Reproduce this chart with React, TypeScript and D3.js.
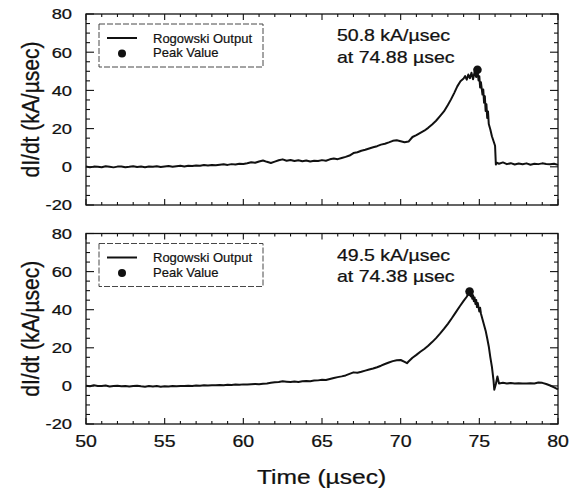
import React from "react";
import * as d3 from "d3";

// ---------- data ----------
const timeTop = [
  50.0, 50.25, 50.5, 50.75, 51.0, 51.25, 51.5, 51.75, 52.0, 52.25, 52.5, 52.75,
  53.0, 53.25, 53.5, 53.75, 54.0, 54.25, 54.5, 54.75, 55.0, 55.25, 55.5, 55.75,
  56.0, 56.25, 56.5, 56.75, 57.0, 57.25, 57.5, 57.75, 58.0, 58.25, 58.5, 58.75,
  59.0, 59.25, 59.5, 59.75, 60.0, 60.25, 60.5, 60.75, 61.0, 61.25, 61.5, 61.75,
  62.0, 62.25, 62.5, 62.75, 63.0, 63.25, 63.5, 63.75, 64.0, 64.25, 64.5, 64.75,
  65.0, 65.25, 65.5, 65.75, 66.0, 66.25, 66.5, 66.75, 67.0, 67.25, 67.5, 67.75,
  68.0, 68.25, 68.5, 68.75, 69.0, 69.25, 69.5, 69.75, 70.0, 70.25, 70.5, 70.75,
  71.0, 71.25, 71.5, 71.75, 72.0, 72.25, 72.5, 72.75, 73.0, 73.2, 73.4, 73.6,
  73.8, 74.0, 74.1, 74.2, 74.3, 74.4, 74.5, 74.6, 74.7, 74.8, 74.88, 74.95,
  75.0, 75.05, 75.1, 75.2, 75.25, 75.3, 75.35, 75.4, 75.45, 75.5, 75.55, 75.6,
  75.7, 75.8, 75.9, 76.0, 76.05, 76.1, 76.25, 76.5, 76.75, 77.0, 77.25, 77.5,
  77.75, 78.0, 78.25, 78.5, 78.75, 79.0, 79.25, 79.5, 79.75, 80.0,
];
const valueTop = [
  0.2, -0.3, 0.1, 0.0, -0.2, 0.3, 0.0, -0.3, 0.1, 0.2, -0.2, 0.0,
  0.3, -0.1, 0.1, -0.2, 0.2, 0.0, 0.3, -0.1, 0.2, 0.4, 0.0, 0.3,
  0.5, 0.2, 0.6, 0.4, 0.7, 0.5, 0.9, 0.7, 1.0, 0.8, 1.1, 1.3,
  1.0, 1.4, 1.2, 1.6, 1.5, 1.9, 2.4, 2.1, 2.8, 3.3, 2.6, 2.0,
  2.7, 3.4, 3.9, 3.2, 3.6, 3.0, 3.4, 2.9, 3.3, 2.8, 3.2, 3.0,
  3.5, 3.2, 3.9, 4.3, 4.0, 4.6, 5.2, 5.9, 7.2, 7.6, 8.4, 8.9,
  9.6, 10.2, 10.8, 11.6, 12.1, 12.8, 13.6, 13.9, 13.4, 12.9, 13.2, 15.6,
  16.6, 17.8, 18.9, 20.4, 22.2, 24.1, 26.5, 29.0, 32.4, 35.3, 38.6, 42.1,
  44.8, 46.2, 47.5, 45.6, 48.3, 46.4, 49.2, 45.8, 49.6, 47.0, 50.8, 45.2,
  47.4, 41.5, 44.3, 37.8, 40.5, 33.6, 37.0, 29.2, 32.8, 25.6, 29.0, 22.4,
  19.5, 16.0, 13.5, 11.0, 1.2, 2.2, 1.6, 2.3, 1.4, 1.9, 1.2, 1.7,
  1.3, 1.8, 1.1, 1.6, 1.4, 1.8, 1.5, 1.3, 1.6, 1.0,
];

const timeBottom = [
  50.0, 50.25, 50.5, 50.75, 51.0, 51.25, 51.5, 51.75, 52.0, 52.25, 52.5, 52.75,
  53.0, 53.25, 53.5, 53.75, 54.0, 54.25, 54.5, 54.75, 55.0, 55.25, 55.5, 55.75,
  56.0, 56.25, 56.5, 56.75, 57.0, 57.25, 57.5, 57.75, 58.0, 58.25, 58.5, 58.75,
  59.0, 59.25, 59.5, 59.75, 60.0, 60.25, 60.5, 60.75, 61.0, 61.25, 61.5, 61.75,
  62.0, 62.25, 62.5, 62.75, 63.0, 63.25, 63.5, 63.75, 64.0, 64.25, 64.5, 64.75,
  65.0, 65.25, 65.5, 65.75, 66.0, 66.25, 66.5, 66.75, 67.0, 67.25, 67.5, 67.75,
  68.0, 68.25, 68.5, 68.75, 69.0, 69.25, 69.5, 69.75, 70.0, 70.25, 70.4, 70.5,
  70.75, 71.0, 71.25, 71.5, 71.75, 72.0, 72.25, 72.5, 72.75, 73.0, 73.25, 73.5,
  73.75, 74.0, 74.2, 74.38, 74.45, 74.5, 74.55, 74.6, 74.65, 74.7, 74.75, 74.8,
  74.85, 74.9, 75.0, 75.05, 75.1, 75.2, 75.3, 75.4, 75.5, 75.6, 75.7, 75.8,
  75.9, 75.95, 76.05, 76.15, 76.25, 76.5, 76.75, 77.0, 77.25, 77.5, 77.75, 78.0,
  78.25, 78.5, 78.75, 79.0, 79.25, 79.5, 79.75, 80.0,
];
const valueBottom = [
  0.1, -0.2, 0.3, 0.0, -0.1, 0.2, -0.3, 0.0, 0.1, -0.2, 0.0, -0.3,
  -0.1, 0.1, -0.2, -0.4, -0.1, -0.3, -0.1, -0.4, -0.2, -0.3, -0.1, -0.2,
  0.0, -0.1, 0.1, 0.0, 0.2, 0.1, 0.3, 0.2, 0.4, 0.3, 0.5, 0.4,
  0.6, 0.5, 0.7, 0.6, 0.8, 0.7, 0.9, 1.0, 0.9, 1.1, 1.3, 1.6,
  1.9, 2.1, 2.4, 2.2, 2.0, 2.3, 2.1, 2.4, 2.6, 2.5, 2.8, 2.9,
  3.2, 3.1, 3.6, 4.1, 4.6, 5.0, 5.5, 6.3, 7.1, 6.9, 7.4, 8.0,
  8.6, 9.1, 9.8, 10.6, 11.5, 12.3, 13.0, 13.5, 13.6, 12.6, 11.9, 12.8,
  14.8, 16.3, 17.9, 19.4, 21.1, 23.0, 25.1, 27.4, 29.9, 32.6, 35.5, 38.6,
  41.7, 44.6, 46.8, 49.5, 47.0, 48.6, 45.8, 47.6, 44.5, 46.4, 43.0, 45.1,
  41.4, 43.5, 39.0, 41.0, 38.0, 35.0, 32.0, 29.0, 25.0, 20.7, 15.0, 10.0,
  3.0, -2.0, 1.0, 4.9, 1.3, 1.6, 1.3, 1.5, 1.2, 1.4, 1.3, 1.2,
  1.4, 1.3, 1.8, 1.6, 1.0, 0.2, -0.8, -1.8,
];

const peakTimes = [74.88, 74.38];
const peakValues = [50.8, 49.5];
const peakLine1 = ["50.8 kA/\u00b5sec", "49.5 kA/\u00b5sec"];
const peakLine2 = ["at 74.88 \u00b5sec", "at 74.38 \u00b5sec"];
const legendLabels = ["Rogowski Output", "Peak Value"];
const xDomain = [50, 80];
const yDomain = [-20, 80];
const xTitle = "Time (\u00b5sec)";
const yTitle = "dI/dt (kA/\u00b5sec)";

// ---------- layout ----------
const W = 577;
const H = 490;
const LEFT = 86;
const RIGHT = 558;
const panels = [
  { top: 14, bottom: 205, t: timeTop, v: valueTop },
  { top: 233.5, bottom: 424, t: timeBottom, v: valueBottom },
];
const FONT = "'Liberation Sans', Arial, Helvetica, sans-serif";
const SX = 1.22;
const INK = "#111";

function SText({ x, y, size, anchor = "start", sx = SX, children }: any) {
  return (
    <text
      transform={`translate(${x},${y}) scale(${sx},1)`}
      fontSize={size}
      fontFamily={FONT}
      textAnchor={anchor}
      fill={INK}
      stroke={INK}
      strokeWidth={0.25}
    >
      {children}
    </text>
  );
}

function Panel({ idx, top, bottom, t, v, showXLabels }: any) {
  const x = d3.scaleLinear().domain(xDomain).range([LEFT, RIGHT]);
  const y = d3.scaleLinear().domain(yDomain).range([bottom, top]);
  const pts = t.map((tt: number, i: number) => [tt, v[i]] as [number, number]);
  const line = d3
    .line<[number, number]>()
    .x((d) => x(d[0]))
    .y((d) => y(d[1]));
  const xMajor = x.ticks(6);
  const xMinor = x.ticks(30);
  const yMajor = y.ticks(5);
  const yMinor = y.ticks(20);
  const midY = (top + bottom) / 2;
  const lgX = 99;
  const lgY = top + 10;
  return (
    <g>
      <rect
        x={LEFT}
        y={top}
        width={RIGHT - LEFT}
        height={bottom - top}
        fill="none"
        stroke={INK}
        strokeWidth={1.3}
      />
      {yMinor.map((d: number) => {
        const major = yMajor.includes(d);
        const len = major ? 8 : 4;
        return (
          <g key={"y" + d}>
            <line x1={LEFT} x2={LEFT + len} y1={y(d)} y2={y(d)} stroke={INK} strokeWidth={1.1} />
            <line x1={RIGHT} x2={RIGHT - len} y1={y(d)} y2={y(d)} stroke={INK} strokeWidth={1.1} />
          </g>
        );
      })}
      {xMinor.map((d: number) => {
        const major = xMajor.includes(d);
        const len = major ? 6 : 3;
        return (
          <g key={"x" + d}>
            <line x1={x(d)} x2={x(d)} y1={bottom} y2={bottom - len} stroke={INK} strokeWidth={1.1} />
            <line x1={x(d)} x2={x(d)} y1={top} y2={top + len} stroke={INK} strokeWidth={1.1} />
          </g>
        );
      })}
      {yMajor.map((d: number) => (
        <SText key={"yl" + d} x={72} y={y(d) + 5.4} size={15} anchor="end">
          {d}
        </SText>
      ))}
      {showXLabels &&
        xMajor.map((d: number) => (
          <SText key={"xl" + d} x={x(d)} y={446.5} size={17} anchor="middle" sx={1.15}>
            {d}
          </SText>
        ))}
      <text
        transform={`translate(39,${midY}) scale(1.25,1) rotate(-90)`}
        fontSize={19}
        fontFamily={FONT}
        textAnchor="middle"
        fill={INK}
        stroke={INK}
        strokeWidth={0.25}
        textLength={136}
        lengthAdjust="spacingAndGlyphs"
      >
        {yTitle}
      </text>
      <path d={line(pts) || ""} fill="none" stroke={INK} strokeWidth={2} strokeLinejoin="round" />
      <circle cx={x(peakTimes[idx])} cy={y(peakValues[idx])} r={4.3} fill={INK} />
      <SText x={337} y={top + 27} size={16}>
        {peakLine1[idx]}
      </SText>
      <SText x={337} y={top + 48.5} size={16}>
        {peakLine2[idx]}
      </SText>
      <rect
        x={lgX}
        y={lgY}
        width={164}
        height={43}
        fill="white"
        stroke="#333"
        strokeWidth={0.9}
        strokeDasharray="6,2"
      />
      <line x1={107} x2={137} y1={lgY + 14} y2={lgY + 14} stroke={INK} strokeWidth={2} />
      <text x={153} y={lgY + 18.5} fontSize={13} fontFamily={FONT} fill={INK} stroke={INK} strokeWidth={0.2}>
        {legendLabels[0]}
      </text>
      <circle cx={122} cy={lgY + 29.5} r={4} fill={INK} />
      <text x={153} y={lgY + 33} fontSize={13} fontFamily={FONT} fill={INK} stroke={INK} strokeWidth={0.2}>
        {legendLabels[1]}
      </text>
    </g>
  );
}

export default function App() {
  return (
    <svg
      width={W}
      height={H}
      viewBox={`0 0 ${W} ${H}`}
      style={{ position: "absolute", left: 0, top: 0, background: "white" }}
    >
      <rect x={0} y={0} width={W} height={H} fill="white" />
      {panels.map((p, i) => (
        <Panel key={i} idx={i} top={p.top} bottom={p.bottom} t={p.t} v={p.v} showXLabels={i === 1} />
      ))}
      <text
        transform={`translate(321.5,484) scale(1.26,1)`}
        fontSize={19.5}
        fontFamily={FONT}
        textAnchor="middle"
        fill={INK}
        stroke={INK}
        strokeWidth={0.25}
      >
        {xTitle}
      </text>
    </svg>
  );
}
